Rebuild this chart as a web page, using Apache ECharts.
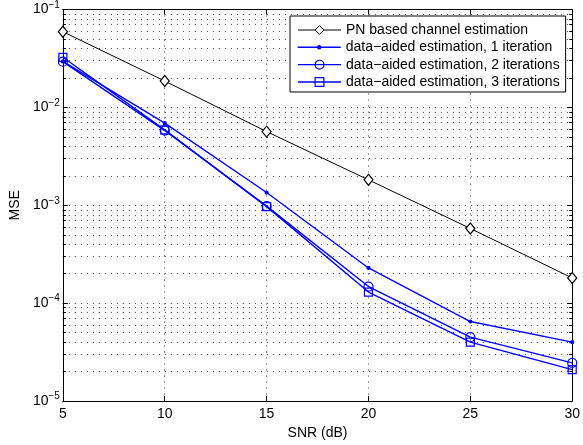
<!DOCTYPE html>
<html>
<head>
<meta charset="utf-8">
<script src="https://cdn.jsdelivr.net/npm/echarts@6/dist/echarts.min.js"></script>
<style>html,body{margin:0;padding:0;background:#fff}#c{width:583px;height:445px}</style>
</head>
<body>
<div id="c"></div>
<script>
var snr = [5, 10, 15, 20, 25, 30];
var pnBased = [0.0593, 0.0186, 0.00566, 0.00182, 0.00058, 0.000181];
var iter1 = [0.0295, 0.0069, 0.00135, 0.000229, 0.000065, 0.00004];
var iter2 = [0.0293, 0.0058, 0.00098, 0.000148, 0.000045, 0.0000246];
var iter3 = [0.0325, 0.0059, 0.00097, 0.00013, 0.00004, 0.000021];
var seriesNames = ['PN based channel estimation', 'data\u2212aided estimation, 1 iteration', 'data\u2212aided estimation, 2 iterations', 'data\u2212aided estimation, 3 iterations'];
var xTicks = [5, 10, 15, 20, 25, 30];

function pairs(ys) { return snr.map(function (x, i) { return [x, ys[i]]; }); }
var FONT = '"Liberation Sans", Arial, Helvetica, sans-serif';
var gridDot = { color: '#444', width: 1, type: [1, 5] };

var chart = echarts.init(document.getElementById('c'), null, { renderer: 'canvas' });
var axisCommonX = {
  type: 'value', min: 5, max: 30, interval: 5,
  axisLine: { show: true, onZero: false, lineStyle: { color: '#000', width: 1 } },
  axisTick: { show: true, inside: true, length: 5, lineStyle: { color: '#000' } },
  splitLine: { show: false }
};
var axisCommonY = {
  type: 'log', logBase: 10, min: 1e-5, max: 1e-1,
  axisLine: { show: true, onZero: false, lineStyle: { color: '#000', width: 1 } },
  axisTick: { show: true, inside: true, length: 5, lineStyle: { color: '#000' } },
  minorTick: { show: true, splitNumber: 9, length: 3, lineStyle: { color: '#000' } },
  splitLine: { show: false }
};

function mk(name, data, color, symbol, size, lw, fill) {
  return {
    name: name, type: 'line', data: pairs(data), symbol: symbol, symbolSize: size,
    showSymbol: true, animation: false,
    lineStyle: { color: color, width: lw },
    itemStyle: { color: fill, borderColor: color, borderWidth: 1.2 },
    emphasis: { disabled: true }
  };
}

var legendText = { fontFamily: FONT, fontSize: 14, color: '#000', lineHeight: 14 };

var option = {
  animation: false,
  backgroundColor: '#fff',
  textStyle: { fontFamily: FONT },
  grid: { left: 61, right: 8, top: 9.5, bottom: 43, containLabel: false },
  legend: [
    {
      orient: 'vertical', left: 290, top: 16,
      padding: [7, 6, 3, 7], itemGap: 3.33, itemWidth: 43, itemHeight: 11,
      backgroundColor: '#fff', borderColor: '#000', borderWidth: 1, borderRadius: 0,
      textStyle: legendText,
      data: [
        { name: seriesNames[0], lineStyle: { width: 1 }, itemStyle: { borderWidth: 1 } },
        { name: seriesNames[1], itemStyle: { opacity: 0 }, lineStyle: { opacity: 0 }, textStyle: { color: 'rgba(0,0,0,0)' } },
        { name: seriesNames[2], lineStyle: { width: 1.4 }, itemStyle: { borderWidth: 1.2 } },
        { name: seriesNames[3], lineStyle: { width: 1.4 }, itemStyle: { borderWidth: 1.2 } }
      ]
    },
    {
      orient: 'vertical', left: 297, top: 40.3,
      padding: 0, itemGap: 0, itemWidth: 43, itemHeight: 3,
      backgroundColor: 'transparent', borderWidth: 0,
      textStyle: legendText,
      data: [{ name: seriesNames[1], lineStyle: { width: 1.4 } }]
    }
  ],
  xAxis: [
    Object.assign({}, axisCommonX, {
      position: 'bottom',
      name: 'SNR (dB)', nameLocation: 'middle', nameGap: 24,
      nameTextStyle: { fontFamily: FONT, fontSize: 14, color: '#000' },
      axisLabel: { show: true, margin: 6, fontFamily: FONT, fontSize: 14, color: '#000',
        formatter: function (v) { return xTicks.indexOf(v) >= 0 ? String(v) : ''; } },
      splitLine: { show: true, lineStyle: gridDot }
    }),
    Object.assign({}, axisCommonX, { position: 'top', axisLabel: { show: false } })
  ],
  yAxis: [
    Object.assign({}, axisCommonY, {
      position: 'left',
      name: 'MSE', nameLocation: 'middle', nameGap: 40, nameRotate: 90,
      nameTextStyle: { fontFamily: FONT, fontSize: 14, color: '#000' },
      axisLabel: {
        show: true, margin: 3, fontFamily: FONT, color: '#000',
        formatter: function (v) {
          var e = Math.round(Math.log10(v));
          return '{b|10}{e|' + (e < 0 ? '\u2212' + (-e) : e) + '}';
        },
        rich: {
          b: { fontSize: 14, fontFamily: FONT, color: '#000' },
          e: { fontSize: 10, fontFamily: FONT, color: '#000', padding: [0, 0, 9, 0] }
        }
      },
      splitLine: { show: true, lineStyle: gridDot },
      minorSplitLine: { show: true, lineStyle: gridDot }
    }),
    Object.assign({}, axisCommonY, { position: 'right', axisLabel: { show: false } })
  ],
  series: [
    mk(seriesNames[0], pnBased, '#000', 'diamond', [9, 11], 1, '#fff'),
    mk(seriesNames[1], iter1, '#0000ff', 'circle', 3, 1.4, '#0000ff'),
    mk(seriesNames[2], iter2, '#0000ff', 'circle', 9, 1.4, 'rgba(255,255,255,0)'),
    mk(seriesNames[3], iter3, '#0000ff', 'rect', 8, 1.4, 'rgba(255,255,255,0)')
  ]
};
chart.setOption(option);
</script>
</body>
</html>
